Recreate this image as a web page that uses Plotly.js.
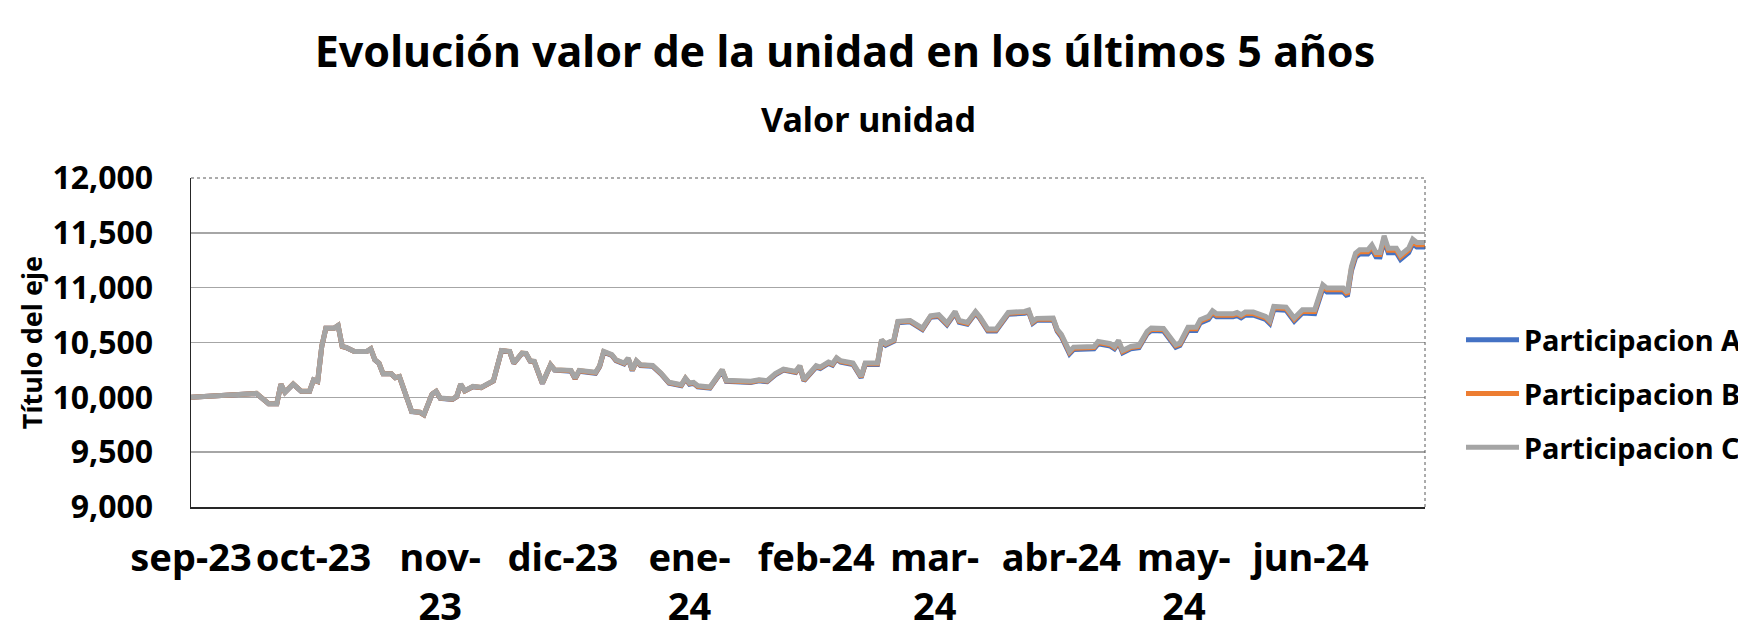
<!DOCTYPE html>
<html>
<head>
<meta charset="utf-8">
<script src="https://cdn.plot.ly/plotly-3.0.1.min.js"></script>
<style>html,body{margin:0;padding:0;background:#fff;}#chart{width:1738px;height:620px;}</style>
</head>
<body>
<div id="chart"></div>
<script>
const dates = [
"2023-09-01","2023-09-17","2023-09-20","2023-09-22","2023-09-23","2023-09-24","2023-09-26","2023-09-28","2023-09-30",
"2023-10-01","2023-10-02","2023-10-03","2023-10-04","2023-10-06","2023-10-07","2023-10-08","2023-10-09","2023-10-11","2023-10-14","2023-10-15","2023-10-16","2023-10-17","2023-10-18","2023-10-20","2023-10-21","2023-10-22","2023-10-25","2023-10-27","2023-10-28","2023-10-30","2023-10-31",
"2023-11-01","2023-11-04","2023-11-05","2023-11-06","2023-11-07","2023-11-09","2023-11-11","2023-11-14","2023-11-16","2023-11-18","2023-11-19","2023-11-21","2023-11-22","2023-11-23","2023-11-24","2023-11-26","2023-11-28","2023-11-29",
"2023-12-03","2023-12-04","2023-12-05","2023-12-09","2023-12-10","2023-12-11","2023-12-13","2023-12-14","2023-12-16","2023-12-17","2023-12-18","2023-12-19","2023-12-20","2023-12-23","2023-12-25","2023-12-27","2023-12-30","2023-12-31",
"2024-01-01","2024-01-02","2024-01-03","2024-01-06","2024-01-08","2024-01-09","2024-01-10","2024-01-16","2024-01-18","2024-01-20","2024-01-22","2024-01-24","2024-01-27","2024-01-28","2024-01-29","2024-01-30",
"2024-02-01","2024-02-02","2024-02-04","2024-02-05","2024-02-06","2024-02-07","2024-02-10","2024-02-12","2024-02-13","2024-02-16","2024-02-17","2024-02-18","2024-02-20","2024-02-21","2024-02-24","2024-02-27","2024-02-29",
"2024-03-02","2024-03-04","2024-03-06","2024-03-07","2024-03-09","2024-03-11","2024-03-12","2024-03-14","2024-03-16","2024-03-17","2024-03-19","2024-03-23","2024-03-24","2024-03-25","2024-03-26","2024-03-30","2024-03-31",
"2024-04-01","2024-04-03","2024-04-04","2024-04-06","2024-04-07","2024-04-09","2024-04-10","2024-04-13","2024-04-14","2024-04-15","2024-04-16","2024-04-18","2024-04-20","2024-04-22","2024-04-23","2024-04-26","2024-04-29","2024-04-30",
"2024-05-02","2024-05-04","2024-05-05","2024-05-07","2024-05-08","2024-05-09","2024-05-13","2024-05-14","2024-05-15","2024-05-16","2024-05-18","2024-05-20","2024-05-21","2024-05-22","2024-05-23","2024-05-26","2024-05-28","2024-05-30",
"2024-06-02","2024-06-04","2024-06-05","2024-06-09","2024-06-10","2024-06-11","2024-06-12","2024-06-13","2024-06-15","2024-06-16","2024-06-17","2024-06-18","2024-06-19","2024-06-20","2024-06-22","2024-06-23","2024-06-25","2024-06-26","2024-06-27","2024-06-29"
];

const participacionC = [
10000,10036,9942,9942,10120,10046,10121,10055,10055,
10160,10146,10465,10631,10631,10656,10465,10455,10419,10419,10443,10343,10313,10216,10216,10180,10190,9872,9865,9842,10030,10055,
9994,9985,10009,10121,10061,10100,10091,10152,10428,10419,10313,10404,10400,10334,10328,10130,10298,10252,
10246,10176,10246,10228,10288,10419,10390,10343,10313,10358,10252,10334,10298,10291,10222,10137,10115,10176,
10130,10137,10106,10094,10206,10252,10155,10146,10161,10152,10216,10258,10237,10288,10161,10206,
10288,10276,10322,10307,10361,10334,10313,10191,10313,10313,10525,10489,10525,10692,10701,10631,10744,
10753,10677,10783,10701,10683,10783,10738,10622,10622,10677,10774,10783,10795,10692,10720,10723,10620,
10575,10419,10458,10458,10464,10464,10510,10489,10464,10519,10428,10464,10474,10601,10631,10628,10480,10495,
10638,10638,10707,10738,10789,10762,10762,10774,10753,10777,10777,10753,10738,10701,10829,10823,10723,10798,
10798,11026,10996,10996,10956,11193,11315,11345,11345,11390,11321,11320,11472,11360,11360,11299,11360,11442,11412,11412
];

const participacionB = [
10000,10036,9942,9942,10120,10046,10121,10055,10055,
10159,10145,10464,10630,10630,10655,10464,10454,10418,10418,10442,10342,10312,10215,10215,10179,10189,9871,9864,9841,10029,10054,
9992,9983,10007,10119,10059,10098,10089,10150,10426,10417,10311,10402,10398,10332,10326,10128,10296,10250,
10242,10172,10242,10224,10284,10415,10386,10339,10309,10354,10248,10330,10294,10287,10218,10133,10111,10172,
10125,10132,10101,10089,10201,10247,10150,10141,10156,10147,10211,10253,10232,10283,10156,10201,
10282,10270,10316,10301,10355,10328,10307,10185,10307,10307,10519,10483,10519,10686,10695,10625,10738,
10745,10669,10775,10693,10675,10775,10730,10614,10614,10669,10766,10775,10787,10684,10712,10715,10612,
10565,10409,10448,10448,10454,10454,10500,10479,10454,10509,10418,10454,10464,10591,10621,10618,10470,10485,
10625,10625,10694,10725,10776,10749,10749,10761,10740,10764,10764,10740,10725,10688,10816,10810,10710,10785,
10782,11010,10980,10980,10940,11176,11297,11327,11327,11372,11303,11302,11454,11341,11341,11280,11341,11422,11392,11392
];

const participacionA = [
10000,10035,9941,9941,10119,10045,10120,10054,10054,
10158,10144,10463,10629,10629,10654,10463,10453,10417,10417,10441,10341,10311,10214,10214,10178,10188,9870,9863,9840,10028,10053,
9990,9981,10005,10117,10057,10096,10087,10148,10424,10415,10309,10400,10396,10330,10324,10126,10294,10248,
10238,10168,10238,10220,10280,10411,10382,10335,10305,10350,10244,10326,10290,10283,10214,10129,10107,10168,
10120,10127,10096,10084,10196,10242,10145,10136,10151,10142,10206,10248,10227,10278,10151,10196,
10275,10263,10309,10294,10348,10321,10300,10178,10300,10300,10512,10476,10512,10679,10688,10618,10731,
10736,10660,10766,10684,10666,10766,10721,10605,10605,10660,10757,10766,10778,10675,10703,10706,10603,
10553,10397,10436,10436,10442,10442,10488,10467,10442,10497,10406,10442,10452,10579,10609,10606,10458,10473,
10610,10610,10679,10710,10761,10734,10734,10746,10725,10749,10749,10725,10710,10673,10801,10795,10695,10770,
10763,10991,10961,10961,10921,11155,11276,11306,11306,11350,11281,11280,11432,11318,11318,11257,11318,11400,11370,11370
];

const seriesNames = ["Participacion A","Participacion B","Participacion C"];
const seriesColors = ["#4472C4","#ED7D31","#A5A5A5"];
const tickDates = ["2023-09-01","2023-10-01","2023-11-01","2023-12-01","2024-01-01","2024-02-01","2024-03-01","2024-04-01","2024-05-01","2024-06-01"];
const tickLabels = ["sep-23","oct-23","nov-<br>23","dic-23","ene-<br>24","feb-24","mar-<br>24","abr-24","may-<br>24","jun-24"];
const yTicks = [9000,9500,10000,10500,11000,11500,12000];

const FONT = "Noto Sans, DejaVu Sans, sans-serif";
const values = [participacionA, participacionB, participacionC];
const traces = values.map((v, i) => ({
  type: "scatter", mode: "lines", x: dates, y: v, name: seriesNames[i],
  legendgroup: "g" + i,
  line: {color: seriesColors[i], width: 5}
}));

const layout = {
  width: 1738, height: 620,
  margin: {l: 191, r: 313, t: 178, b: 113, autoexpand: false},
  paper_bgcolor: "#ffffff", plot_bgcolor: "#ffffff",
  font: {family: FONT, color: "#000000"},
  title: {
    text: "Evolución valor de la unidad en los últimos 5 años",
    x: 0.4862, xanchor: "center", xref: "container",
    y: 0.916, yanchor: "middle", yref: "container",
    font: {family: FONT, size: 43, weight: 700, color: "#000000"}
  },
  annotations: [{
    text: "Valor unidad", xref: "paper", yref: "paper",
    x: 0.5494, y: 1.1805, xanchor: "center", yanchor: "middle",
    showarrow: false, font: {family: FONT, size: 34, weight: 700, color: "#000000"}
  }],
  xaxis: {
    type: "date", range: ["2023-09-01", "2024-06-29"],
    tickmode: "array", tickvals: tickDates, ticktext: tickLabels,
    tickangle: 0, ticks: "", ticklabelstandoff: 16,
    tickfont: {family: FONT, size: 38, weight: 700, color: "#000000"},
    showgrid: false, zeroline: false,
    showline: true, linecolor: "#262626", linewidth: 2, mirror: false,
    fixedrange: true
  },
  yaxis: {
    range: [9000, 12000], tickmode: "array", tickvals: yTicks,
    tickformat: ",d", ticks: "", ticklabelstandoff: 30,
    tickfont: {family: FONT, size: 32, weight: 700, color: "#000000"},
    showgrid: true, gridcolor: "#a6a6a6", gridwidth: 1.5, zeroline: false,
    showline: true, linecolor: "#262626", linewidth: 1.5, mirror: false,
    title: {text: "Título del eje", standoff: 2, font: {family: FONT, size: 27, weight: 700, color: "#000000"}},
    fixedrange: true
  },
  legend: {
    x: (1461 - 191) / 1234, xanchor: "left", xref: "paper",
    y: (507 - 394) / 329, yanchor: "middle", yref: "paper",
    font: {family: FONT, size: 29, weight: 700, color: "#000000"},
    itemwidth: 53, tracegroupgap: 13, traceorder: "grouped",
    bgcolor: "rgba(0,0,0,0)", borderwidth: 0
  },
  shapes: [
    {type: "line", xref: "paper", yref: "paper", x0: 0, x1: 1, y0: 1, y1: 1, line: {color: "#595959", width: 1, dash: "dot"}},
    {type: "line", xref: "paper", yref: "paper", x0: 1, x1: 1, y0: 0, y1: 1, line: {color: "#595959", width: 1, dash: "dot"}}
  ],
  showlegend: true
};

Plotly.newPlot("chart", traces, layout, {displayModeBar: false, responsive: false, staticPlot: true});
</script>
</body>
</html>
